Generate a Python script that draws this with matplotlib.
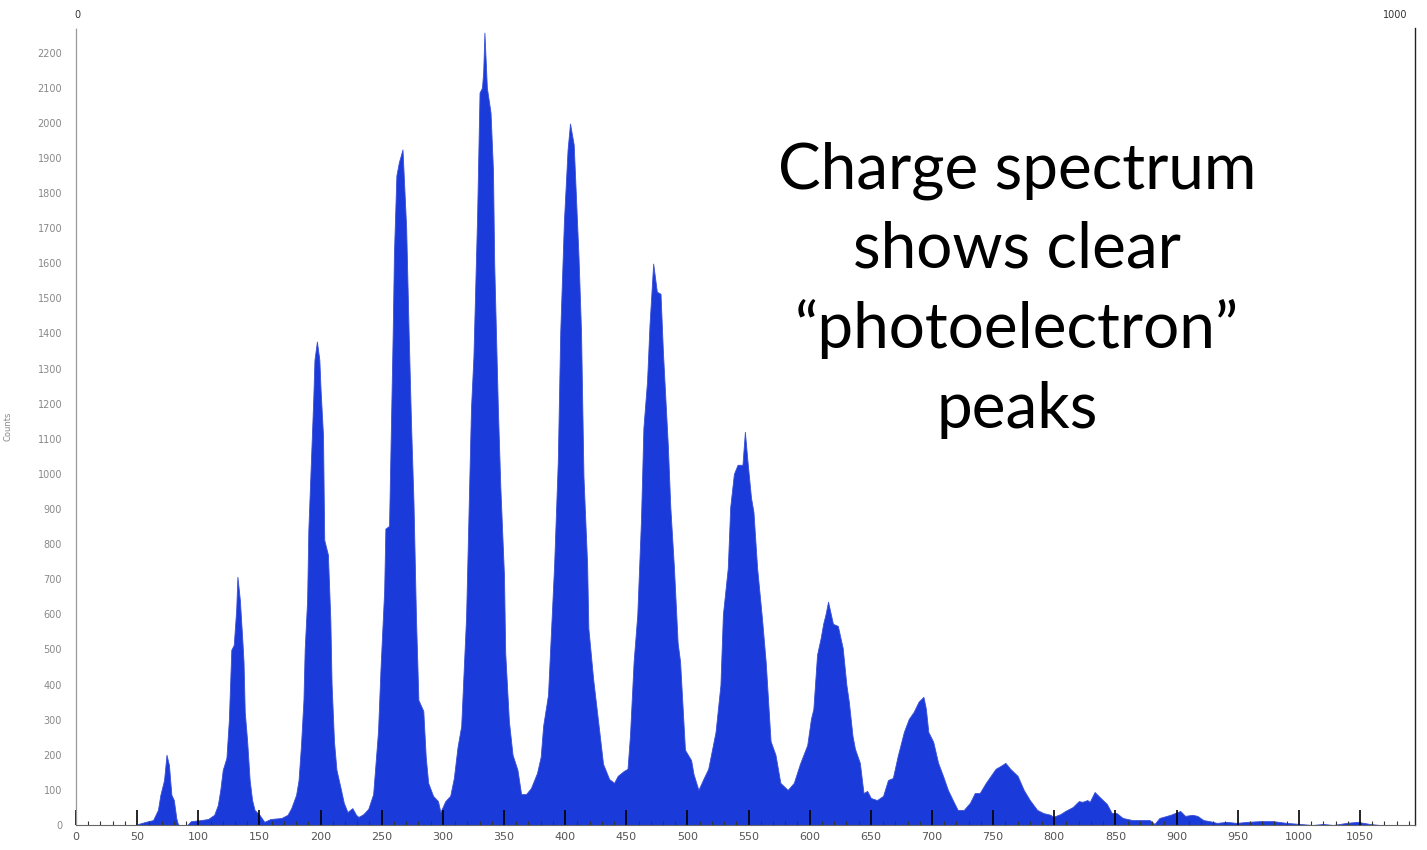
import matplotlib
matplotlib.use("Agg")
import matplotlib.pyplot as plt
from matplotlib.ticker import MultipleLocator

charge = [50, 51, 57, 63, 67, 69, 72, 74, 76, 78, 80, 82, 83, 84, 91, 94, 102, 108, 113, 116,
          118, 120, 123, 125, 127, 129, 131, 132, 134, 136, 137, 138, 140, 142, 144, 146, 150, 154, 159, 168,
          173, 176, 180, 182, 184, 186, 187, 189, 190, 192, 194, 195, 197, 199, 200, 202, 203, 206, 208, 209,
          211, 213, 216, 219, 222, 226, 229, 231, 235, 239, 243, 247, 249, 252, 253, 256, 257, 259, 260, 262,
          264, 267, 268, 270, 272, 274, 276, 278, 280, 284, 286, 288, 292, 296, 298, 302, 306, 309, 312, 315,
          319, 321, 323, 325, 328, 330, 332, 333, 334, 336, 339, 341, 342, 345, 347, 350, 351, 354, 357, 361,
          364, 368, 372, 377, 380, 382, 386, 388, 391, 394, 396, 399, 402, 404, 407, 409, 411, 413, 415, 418,
          419, 423, 427, 431, 436, 440, 443, 448, 451, 453, 456, 459, 462, 464, 467, 469, 472, 475, 478, 480,
          484, 486, 489, 492, 494, 498, 503, 505, 509, 513, 517, 523, 527, 529, 533, 535, 538, 541, 545, 547,
          549, 552, 554, 557, 561, 564, 568, 572, 576, 582, 587, 592, 598, 601, 603, 606, 609, 611, 613, 615,
          619, 623, 627, 630, 632, 635, 637, 641, 644, 647, 650, 655, 660, 664, 668, 672, 677, 681, 685, 689,
          693, 695, 697, 701, 705, 709, 713, 717, 721, 726, 731, 735, 739, 744, 748, 752, 756, 760, 764, 770,
          775, 780, 786, 791, 797, 799, 805, 809, 815, 820, 823, 827, 829, 833, 837, 843, 847, 851, 856, 864,
          870, 878, 882, 886, 895, 903, 907, 913, 917, 922, 927, 933, 941, 949, 958, 968, 979, 990, 1001, 1011,
          1020, 1028, 1039, 1048, 1058, 1066, 1068]
counts = [0, 3, 9, 14, 43, 86, 128, 200, 171, 86, 71, 20, 6, 0, 0, 11, 14, 17, 29, 57,
          100, 157, 191, 299, 499, 513, 613, 707, 641, 527, 465, 322, 237, 128, 71, 43, 29, 9, 17, 20,
          29, 48, 86, 128, 228, 356, 499, 641, 841, 1026, 1211, 1325, 1377, 1325, 1240, 1109, 812, 770, 584, 402,
          237, 157, 111, 63, 37, 48, 29, 23, 31, 46, 88, 268, 445, 667, 844, 852, 1037, 1405, 1627, 1850,
          1887, 1924, 1850, 1701, 1405, 1140, 918, 593, 356, 325, 194, 120, 83, 68, 37, 68, 83, 134, 222, 282,
          593, 889, 1186, 1334, 1733, 2086, 2100, 2146, 2257, 2100, 2029, 1864, 1599, 1186, 963, 710, 490, 296, 200, 157,
          88, 88, 105, 148, 194, 282, 371, 519, 741, 1037, 1405, 1719, 1924, 1998, 1938, 1776, 1613, 1405, 992, 741,
          560, 413, 294, 174, 131, 120, 140, 154, 160, 254, 465, 599, 866, 1131, 1265, 1425, 1599, 1519, 1513, 1345,
          1080, 906, 732, 519, 465, 214, 185, 145, 100, 131, 160, 265, 399, 599, 732, 906, 1000, 1026, 1026, 1120,
          1040, 932, 892, 732, 587, 465, 239, 200, 120, 100, 120, 174, 228, 302, 331, 485, 533, 573, 601, 636,
          573, 567, 504, 399, 351, 254, 217, 177, 91, 97, 77, 71, 83, 128, 134, 197, 265, 302, 322, 351,
          365, 331, 265, 237, 177, 140, 100, 71, 43, 43, 63, 91, 91, 120, 140, 160, 168, 177, 160, 140,
          100, 71, 43, 34, 29, 23, 31, 40, 51, 68, 66, 71, 66, 94, 80, 60, 34, 34, 20, 14,
          14, 14, 3, 20, 29, 40, 26, 29, 26, 14, 11, 6, 9, 6, 9, 11, 11, 6, 3, 0,
          3, 0, 6, 9, 3, 0, 0]

x_ticks = list(range(0, 1051, 50))
y_ticks = list(range(0, 2201, 100))
title_lines = ["Charge spectrum", "shows clear", "\u201cphotoelectron\u201d", "peaks"]

W, H = 1427, 850
fig = plt.figure(figsize=(W / 100, H / 100), dpi=100)
ax = fig.add_axes([76 / W, 25 / H, (1415 - 76) / W, (825 - 28) / H])

ax.fill_between(charge, counts, 0, color="#1A3BD9", linewidth=0.6, edgecolor="#3a50d8")

ax.set_xlim(0, 1095)
ax.set_ylim(0, 2270)

ax.set_xticks(x_ticks)
ax.set_xticklabels([str(v) for v in x_ticks])
ax.xaxis.set_minor_locator(MultipleLocator(10))
ax.tick_params(axis="x", which="major", direction="in", length=11, width=1.2,
               color="black", labelsize=8, labelcolor="#555555", pad=5)
ax.tick_params(axis="x", which="minor", direction="in", length=3, width=0.8, color="#333333")

ax.set_yticks(y_ticks)
ax.set_yticklabels([str(v) for v in y_ticks])
ax.tick_params(axis="y", which="major", length=0, labelsize=7, labelcolor="#888888", pad=10)

ax.spines["top"].set_visible(False)
ax.spines["left"].set_linestyle((0, (1, 1)))
ax.spines["left"].set_color("#999999")
ax.spines["left"].set_linewidth(0.9)
ax.spines["bottom"].set_color("#666666")
ax.spines["bottom"].set_linewidth(0.8)
ax.spines["right"].set_color("#222222")
ax.spines["right"].set_linewidth(1.0)

ax.set_ylabel("Counts", fontsize=6, color="#888888", labelpad=18)

fig.text(77 / W, 1 - 15 / H, "0", fontsize=7, color="#333333", ha="center", va="center")
fig.text(1395 / W, 1 - 15 / H, "1000", fontsize=7, color="#333333", ha="center", va="center")

baselines = [188, 268, 348, 428]
for line, yb in zip(title_lines, baselines):
    fig.text(1017 / W, 1 - yb / H, line, fontsize=46, family=["Lato", "DejaVu Sans"],
             color="black", ha="center", va="baseline")

fig.savefig("out.png", dpi=100)
